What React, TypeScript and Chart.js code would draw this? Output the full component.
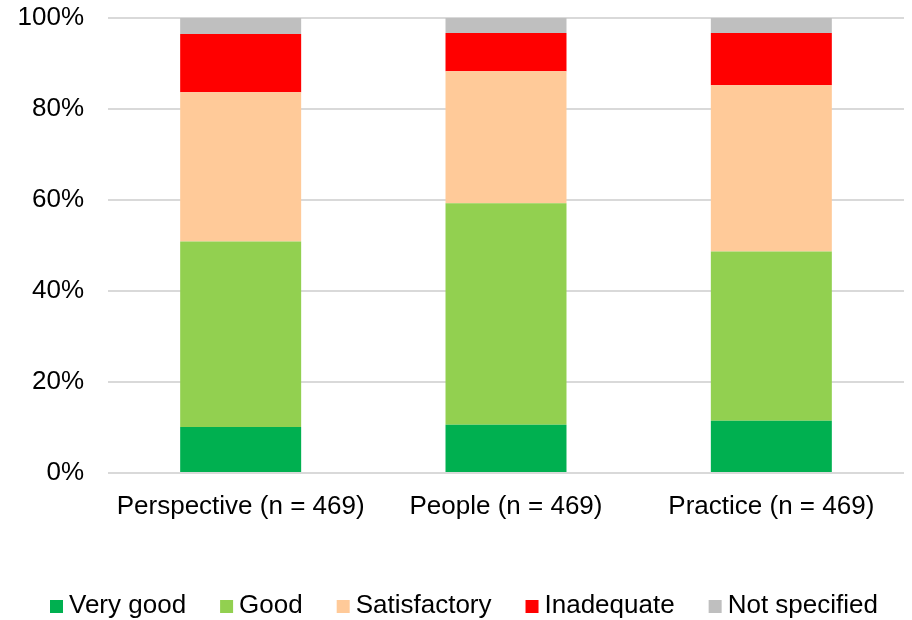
import React, { useEffect, useRef } from "react";
import { Chart, registerables } from "chart.js";

Chart.register(...registerables);

const categories = ["Perspective (n = 469)", "People (n = 469)", "Practice (n = 469)"];
const seriesNames = ["Very good", "Good", "Satisfactory", "Inadequate", "Not specified"];
const veryGood = [10.1, 10.6, 11.5];
const good = [40.8, 48.7, 37.2];
const satisfactory = [32.8, 29.0, 36.5];
const inadequate = [12.8, 8.4, 11.5];
const notSpecified = [3.5, 3.3, 3.3];
const seriesColors = ["#00B050", "#92D050", "#FFCA99", "#FF0000", "#BFBFBF"];
const yTicks = [0, 20, 40, 60, 80, 100];

const FONT = "'Liberation Sans', Arial, sans-serif";

const legendPlugin = {
  id: "customLegend",
  afterDraw(chart: any) {
    const ctx = chart.ctx;
    ctx.save();
    ctx.font = `26px ${FONT}`;
    ctx.textBaseline = "alphabetic";
    ctx.textAlign = "left";
    let x = 50;
    const baseline = 613;
    chart.data.datasets.forEach((ds: any) => {
      ctx.fillStyle = ds.backgroundColor;
      ctx.fillRect(x, 600, 13, 13);
      x += 13 + 6;
      ctx.fillStyle = "#000";
      ctx.fillText(ds.label, x, baseline);
      x += ctx.measureText(ds.label).width + 34;
    });
    ctx.restore();
  },
};

export default function App() {
  const ref = useRef<HTMLCanvasElement | null>(null);

  useEffect(() => {
    document.body.style.margin = "0";
    const values = [veryGood, good, satisfactory, inadequate, notSpecified];
    const chart = new Chart(ref.current as HTMLCanvasElement, {
      type: "bar",
      data: {
        labels: categories,
        datasets: seriesNames.map((name, i) => ({
          label: name,
          data: values[i],
          backgroundColor: seriesColors[i],
          borderWidth: 0,
          categoryPercentage: 1,
          barPercentage: 0.456,
        })),
      },
      options: {
        animation: false,
        responsive: false,
        maintainAspectRatio: false,
        layout: { padding: { top: 18, right: 8, left: 0, bottom: 0 } },
        plugins: {
          legend: { display: false },
          tooltip: { enabled: false },
        },
        scales: {
          x: {
            stacked: true,
            grid: { display: false },
            border: { display: false },
            ticks: {
              color: "#000",
              font: { family: FONT, size: 26 },
              padding: 10,
              maxRotation: 0,
              autoSkip: false,
            },
            afterFit: (s: any) => {
              s.height = 147;
              s.paddingLeft = 0;
              s.paddingRight = 0;
            },
          },
          y: {
            stacked: true,
            min: 0,
            max: 100,
            afterBuildTicks: (s: any) => {
              s.ticks = yTicks.map((v) => ({ value: v }));
            },
            grid: { color: "#D9D9D9", lineWidth: 2, drawTicks: false },
            border: { display: false },
            ticks: {
              color: "#000",
              font: { family: FONT, size: 26 },
              padding: 24,
              callback: (v: any) => `${v}%`,
            },
            afterFit: (s: any) => {
              s.width = 108;
              s.paddingTop = 0;
              s.paddingBottom = 0;
            },
          },
        },
      },
      plugins: [legendPlugin],
    });
    return () => chart.destroy();
  }, []);

  return (
    <div style={{ position: "absolute", left: 0, top: 0, width: 912, height: 620, background: "#fff" }}>
      <canvas ref={ref} width={912} height={620} style={{ width: 912, height: 620 }} />
    </div>
  );
}
